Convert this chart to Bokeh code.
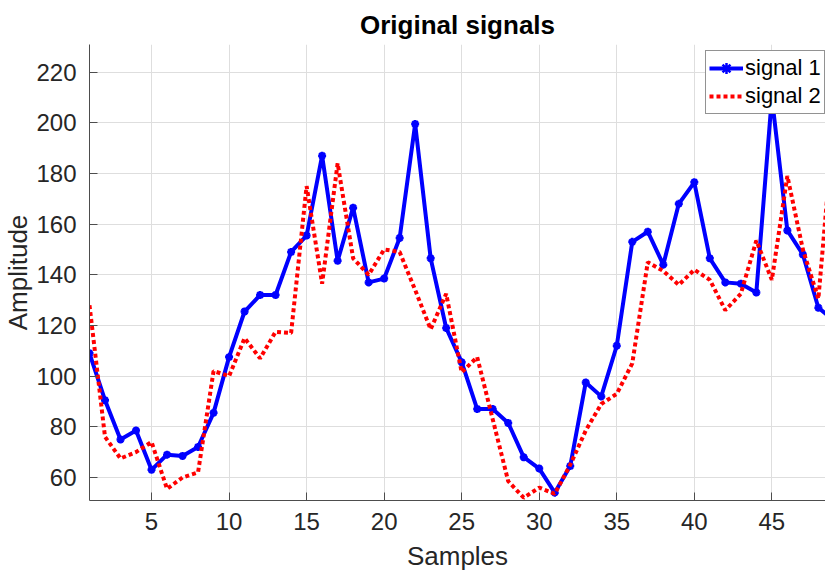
from bokeh.plotting import figure
from bokeh.models import Range1d, FixedTicker, Legend, LegendItem
from bokeh.embed import file_html
from bokeh.resources import INLINE

samples = list(range(1, 50))
signal1 = [109, 90.5, 75, 78.5, 63, 69, 68.5, 72, 85.5, 107.5,
           125.5, 132, 132, 149, 155.5, 187, 145.5, 166.5, 137, 138.5,
           154.5, 199.5, 146.5, 119, 105.5, 87, 87, 81.5, 68, 63.5,
           54, 64.5, 97.5, 92, 112, 153, 157, 144, 168, 176.5,
           146.5, 137, 136.5, 133, 210, 157.5, 148, 127, 122]
signal2 = [128, 76, 67.5, 70, 74, 55.5, 60, 62, 102, 100,
           115, 107, 117.5, 117, 175, 136.5, 184, 146.5, 140, 150,
           149, 134, 118.5, 132.5, 101.5, 107.5, 83, 58.5, 52, 56,
           53.5, 65, 78.5, 89, 93, 105, 145, 141.5, 136, 142,
           138, 126, 132.5, 153.5, 138, 179, 150, 130.5, 201]
x_ticks = [5, 10, 15, 20, 25, 30, 35, 40, 45]
y_ticks = [60, 80, 100, 120, 140, 160, 180, 200, 220]

FONT = "Liberation Sans"
AX = "#262626"

p = figure(width=825, height=575, output_backend="svg", toolbar_location=None,
           x_range=Range1d(1, 48.46), y_range=Range1d(50.9, 230.9),
           min_border_left=88, min_border_right=0, min_border_top=44,
           min_border_bottom=75, background_fill_color="white",
           border_fill_color="white")
p.outline_line_color = None

p.title.text = "Original signals"
p.title.text_font = FONT
p.title.text_font_size = "26px"
p.title.text_font_style = "bold"
p.title.text_color = "black"
p.title.align = "center"
p.title.standoff = 9

for ax, ticks in ((p.xaxis[0], x_ticks), (p.yaxis[0], y_ticks)):
    ax.ticker = FixedTicker(ticks=ticks)
    ax.major_tick_in = 8
    ax.major_tick_out = 0
    ax.minor_tick_in = 0
    ax.minor_tick_out = 0
    ax.axis_line_color = "#4d4d4d"
    ax.major_tick_line_color = "#4d4d4d"
    ax.major_label_text_font = FONT
    ax.major_label_text_font_size = "24px"
    ax.major_label_text_color = AX
    ax.axis_label_text_font = FONT
    ax.axis_label_text_font_size = "26px"
    ax.axis_label_text_font_style = "normal"
    ax.axis_label_text_color = AX

p.xaxis.axis_label = "Samples"
p.yaxis.axis_label = "Amplitude"
p.xaxis.major_label_standoff = 12
p.xaxis.axis_label_standoff = 8
p.yaxis.major_label_standoff = 13
p.yaxis.axis_label_standoff = 0

p.grid.grid_line_color = "#dedede"
p.grid.grid_line_width = 1

l1 = p.line(samples, signal1, line_color="#0000ff", line_width=4)
s1 = p.scatter(samples, signal1, marker="asterisk", size=8,
               line_color="#0000ff", line_width=2.5)
l2 = p.line(samples, signal2, line_color="#ff0000", line_width=4,
            line_dash="4 3")

legend = Legend(items=[LegendItem(label="signal 1", renderers=[l1, s1]),
                       LegendItem(label="signal 2", renderers=[l2])],
                location=(616, 386))
legend.label_text_font = FONT
legend.label_text_font_size = "22px"
legend.label_text_color = "black"
legend.border_line_color = AX
legend.border_line_width = 1
legend.background_fill_color = "white"
legend.background_fill_alpha = 1
legend.glyph_width = 34
legend.glyph_height = 28
legend.label_height = 28
legend.padding = 3
legend.spacing = 0
legend.label_standoff = 2
legend.margin = 0
p.add_layout(legend)

open("out.html", "w").write(file_html(p, INLINE))
